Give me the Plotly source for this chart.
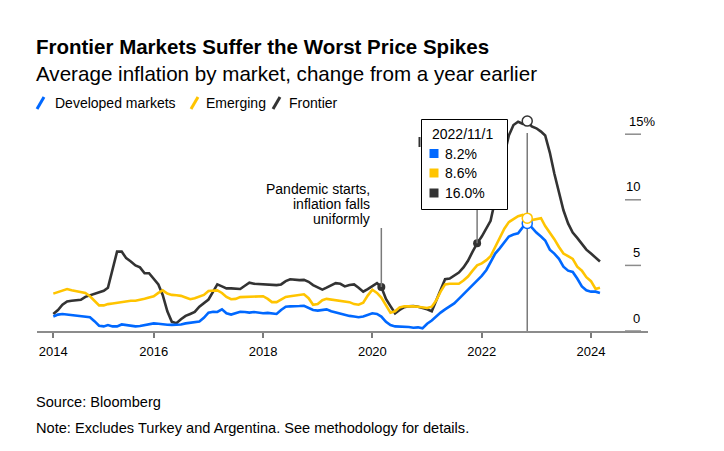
import pandas as pd
import plotly.graph_objects as go

# ---------------- data ----------------
dates = pd.date_range("2014-03-01", periods=121, freq="MS")

developed = [1.1, 1.25, 1.3, 1.25, 1.2, 1.2, 1.15, 1.1, 1.05, 0.75, 0.4, 0.35, 0.45, 0.35, 0.35, 0.5,
             0.45, 0.4, 0.35, 0.38, 0.45, 0.5, 0.58, 0.55, 0.5, 0.48, 0.47, 0.46, 0.5, 0.58, 0.63, 0.68,
             0.72, 1.0, 1.4, 1.47, 1.45, 1.65, 1.35, 1.25, 1.35, 1.47, 1.45, 1.4, 1.45, 1.38, 1.35, 1.38,
             1.32, 1.3, 1.6, 1.85, 1.88, 1.87, 1.9, 1.92, 1.75, 1.6, 1.55, 1.6, 1.65, 1.5, 1.4, 1.3,
             1.22, 1.15, 1.1, 1.05, 1.1, 1.25, 1.35, 1.3, 1.1, 0.7, 0.45, 0.35, 0.33, 0.35, 0.3, 0.25,
             0.28, 0.2, 0.55, 0.8, 1.1, 1.4, 1.65, 1.85, 2.1, 2.45, 2.8, 3.1, 3.45, 3.85, 4.2, 4.65,
             5.3, 5.9, 6.3, 6.8, 7.2, 7.35, 7.45, 7.9, 8.2, 7.9, 7.5, 7.2, 6.9, 6.2, 5.9, 5.5,
             4.9, 4.6, 4.5, 4.0, 3.4, 3.1, 3.0, 3.0, 2.9]

emerging = [2.85, 2.95, 3.1, 3.2, 3.1, 3.05, 2.95, 2.9, 2.65, 2.3, 1.95, 1.95, 2.05, 2.1, 2.15, 2.25,
            2.3, 2.3, 2.3, 2.35, 2.45, 2.55, 2.65, 2.9, 3.1, 2.85, 2.75, 2.72, 2.68, 2.55, 2.42, 2.5,
            2.62, 2.75, 3.05, 3.08, 3.1, 2.9, 2.6, 2.42, 2.45, 2.58, 2.6, 2.62, 2.6, 2.62, 2.65, 2.45,
            2.2, 2.2, 2.4, 2.6, 2.65, 2.72, 2.78, 2.8, 2.5, 2.0, 2.05, 2.35, 2.45, 2.4, 2.35, 2.3,
            2.3, 2.2, 2.05, 2.0, 2.15, 2.7, 3.15, 2.9, 2.55, 1.95, 1.4, 1.5, 1.8, 1.88, 1.9, 1.88,
            1.85, 1.78, 1.75, 1.85, 2.3, 3.0, 3.55, 3.6, 3.58, 3.6, 3.85, 4.15, 4.6, 5.0, 5.15, 5.4,
            5.7, 6.4, 7.2, 7.8, 8.3, 8.55, 8.75, 8.85, 8.6, 8.45, 8.5, 8.6, 8.0, 7.5, 7.0, 6.4,
            5.9, 5.7, 5.5, 4.9, 4.6, 4.1, 3.8, 3.2, 3.3]

frontier = [1.3, 1.6, 2.0, 2.25, 2.3, 2.35, 2.38, 2.6, 2.72, 2.82, 2.95, 3.07, 3.3, 4.6, 6.05, 6.05,
            5.55, 5.3, 5.0, 4.85, 4.4, 4.4, 4.0, 3.55, 2.75, 1.5, 0.7, 0.6, 0.9, 1.15, 1.3, 1.45,
            1.85, 2.1, 2.4, 3.0, 3.55, 3.4, 3.25, 3.25, 3.2, 3.2, 3.45, 3.68, 3.6, 3.58, 3.56, 3.55,
            3.5, 3.5, 3.55, 3.8, 3.94, 3.9, 3.88, 3.9, 3.75, 3.5, 3.3, 3.15, 3.3, 3.5, 3.65, 3.6,
            3.4, 3.5, 3.55, 3.3, 3.0, 3.2, 3.45, 3.65, 3.35, 2.45, 1.9, 1.35, 1.6, 1.82, 1.88, 1.9,
            1.85, 1.78, 1.65, 1.5, 2.3, 3.2, 3.95, 4.0, 4.25, 4.45, 4.85, 5.35, 6.05, 6.68, 7.2, 7.8,
            8.4, 10.0, 11.8, 13.4, 14.9, 15.7, 15.95, 15.8, 16.0, 15.6, 15.45, 15.2, 14.9, 13.6, 12.0, 10.6,
            9.2, 8.2, 7.5, 7.1, 6.6, 6.2, 5.9, 5.6, 5.3]

series_names = ["Developed markets", "Emerging", "Frontier"]
colors = ["#0068ff", "#ffc400", "#333333"]

xtick_vals = ["2014-03-01", "2016-01-01", "2018-01-01", "2020-01-01", "2022-01-01", "2024-01-01"]
xtick_text = ["2014", "2016", "2018", "2020", "2022", "2024"]
ytick_vals = [0, 5, 10, 15]
ytick_text = ["0", "5", "10", "15%"]

tooltip_date = "2022-11-01"
tooltip_label = "2022/11/1"
pandemic_date = "2020-03-01"
pandemic_text = ["Pandemic starts,", "inflation falls", "uniformly"]
second_note_date = "2021-12-01"

title = "Frontier Markets Suffer the Worst Price Spikes"
subtitle = "Average inflation by market, change from a year earlier"
source = "Source: Bloomberg"
note = "Note: Excludes Turkey and Argentina. See methodology for details."

# ---------------- layout geometry (pixels) ----------------
W, H = 724, 451
L, R, T, B = 37, 648, 110, 331
PX_PER_UNIT = 13.12
FONT = "Liberation Sans, Arial, sans-serif"


def px(xp):
    return (xp - L) / (R - L)


def py(yp):
    return (B - yp) / (B - T)


def yval(yp):
    return (B - yp) / PX_PER_UNIT


def lookup(series, date):
    return series[list(dates).index(pd.Timestamp(date))]


fig = go.Figure()

shapes = []
annotations = []

# tooltip vertical line (below traces)
shapes.append(dict(type="line", xref="x", yref="y", x0=tooltip_date, x1=tooltip_date,
                   y0=0, y1=yval(133), line=dict(color="#7a7a7a", width=1.5), layer="below"))

# lines
for name, vals, col in [("Frontier", frontier, colors[2]), ("Emerging", emerging, colors[1]),
                        ("Developed markets", developed, colors[0])]:
    fig.add_trace(go.Scatter(x=dates, y=vals, mode="lines", name=name,
                             line=dict(color=col, width=2.6), hoverinfo="skip"))

# annotation lines + markers
pand_val = lookup(frontier, pandemic_date)
shapes.append(dict(type="line", xref="x", yref="y", x0=pandemic_date, x1=pandemic_date,
                   y0=pand_val, y1=yval(228), line=dict(color="#7a7a7a", width=1.5), layer="above"))
sec_val = lookup(frontier, second_note_date)
shapes.append(dict(type="line", xref="x", yref="y", x0=second_note_date, x1=second_note_date,
                   y0=sec_val, y1=yval(160), line=dict(color="#7a7a7a", width=1.5), layer="above"))
fig.add_trace(go.Scatter(x=[pandemic_date, second_note_date], y=[pand_val, sec_val], mode="markers",
                         marker=dict(color="#333333", size=8), hoverinfo="skip", showlegend=False))

# hollow tooltip markers
for vals, col in [(frontier, colors[2]), (developed, colors[0]), (emerging, colors[1])]:
    fig.add_trace(go.Scatter(x=[tooltip_date], y=[lookup(vals, tooltip_date)], mode="markers",
                             marker=dict(color="white", size=10, line=dict(color=col, width=1.5)),
                             hoverinfo="skip", showlegend=False, cliponaxis=False))

# small glyph peeking out of hidden label
shapes.append(dict(type="line", xref="paper", yref="paper", x0=px(419.5), x1=px(419.5),
                   y0=py(137), y1=py(147), line=dict(color="#333333", width=2), layer="above"))

# tooltip box
shapes.append(dict(type="rect", xref="paper", yref="paper", x0=px(421.5), x1=px(507.5),
                   y0=py(209.5), y1=py(119.5), fillcolor="white",
                   line=dict(color="black", width=1), layer="above"))
annotations.append(dict(xref="paper", yref="paper", x=px(430), y=py(134), text=tooltip_label,
                        xanchor="left", yanchor="middle", showarrow=False,
                        font=dict(family=FONT, size=14, color="#000")))
tip_rows = [(developed, colors[0], 153.5), (emerging, colors[1], 173), (frontier, colors[2], 193)]
for vals, col, yc in tip_rows:
    shapes.append(dict(type="rect", xref="paper", yref="paper", x0=px(429.5), x1=px(438.5),
                       y0=py(yc + 4.5), y1=py(yc - 4.5), fillcolor=col, line=dict(width=0),
                       layer="above"))
    annotations.append(dict(xref="paper", yref="paper", x=px(443), y=py(yc),
                            text=f"{lookup(vals, tooltip_date):.1f}%",
                            xanchor="left", yanchor="middle", showarrow=False,
                            font=dict(family=FONT, size=14, color="#000")))

# pandemic text
for k, line in enumerate(pandemic_text):
    annotations.append(dict(xref="paper", yref="paper", x=px(372), y=py(188.5 + 15.3 * k), text=line,
                            xanchor="right", yanchor="middle", showarrow=False,
                            font=dict(family=FONT, size=14, color="#000")))

# y ticks (right side, labels above short tick lines)
for v, t in zip(ytick_vals, ytick_text):
    shapes.append(dict(type="line", xref="paper", yref="y", x0=px(625), x1=px(641), y0=v, y1=v,
                       line=dict(color="#8c8c8c", width=1.5), layer="above"))
    if t.endswith("%"):
        annotations.append(dict(xref="paper", yref="y", x=px(626.5), y=v, text=t, xanchor="left",
                                yanchor="middle", yshift=13, showarrow=False,
                                font=dict(family=FONT, size=13, color="#000")))
    else:
        annotations.append(dict(xref="paper", yref="y", x=px(641.5), y=v, text=t, xanchor="right",
                                yanchor="middle", yshift=13, showarrow=False,
                                font=dict(family=FONT, size=13, color="#000")))

# titles
annotations.append(dict(xref="paper", yref="paper", x=px(34), y=py(47), text=f"<b>{title}</b>",
                        xanchor="left", yanchor="middle", showarrow=False,
                        font=dict(family=FONT, size=20.5, color="#000")))
annotations.append(dict(xref="paper", yref="paper", x=px(34), y=py(74), text=subtitle,
                        xanchor="left", yanchor="middle", showarrow=False,
                        font=dict(family=FONT, size=20.6, color="#000")))

# custom legend
leg_items = [(series_names[0], colors[0], 37, 53), (series_names[1], colors[1], 191, 204),
             (series_names[2], colors[2], 273, 287)]
for name, col, xs, xt in leg_items:
    shapes.append(dict(type="line", xref="paper", yref="paper", x0=px(xs), x1=px(xs + 7),
                       y0=py(109), y1=py(97), line=dict(color=col, width=3)))
    annotations.append(dict(xref="paper", yref="paper", x=px(xt), y=py(103), text=name,
                            xanchor="left", yanchor="middle", showarrow=False,
                            font=dict(family=FONT, size=14, color="#000")))

# footer
annotations.append(dict(xref="paper", yref="paper", x=px(34), y=py(402), text=source,
                        xanchor="left", yanchor="middle", showarrow=False,
                        font=dict(family=FONT, size=14.6, color="#000")))
annotations.append(dict(xref="paper", yref="paper", x=px(34), y=py(428), text=note,
                        xanchor="left", yanchor="middle", showarrow=False,
                        font=dict(family=FONT, size=14.6, color="#000")))

fig.update_layout(
    width=W, height=H,
    margin=dict(l=L, r=W - R, t=T, b=H - B, pad=0),
    paper_bgcolor="white", plot_bgcolor="white",
    showlegend=False,
    shapes=shapes, annotations=annotations,
    xaxis=dict(type="date", range=["2013-11-12", "2025-01-16"], tickvals=xtick_vals,
               ticktext=xtick_text, ticks="outside", ticklen=5, tickwidth=1.5, tickcolor="#7a7a7a",
               showline=True, linecolor="#8c8c8c", linewidth=2, showgrid=False, zeroline=False,
               tickfont=dict(family=FONT, size=13, color="#000"), ticklabelstandoff=2),
    yaxis=dict(range=[0, (B - T) / PX_PER_UNIT], showticklabels=False, showgrid=False,
               zeroline=False, showline=False, ticks=""),
)

fig.write_html("out.html", config={"displayModeBar": False},
               post_script="document.body.style.margin='0';")
